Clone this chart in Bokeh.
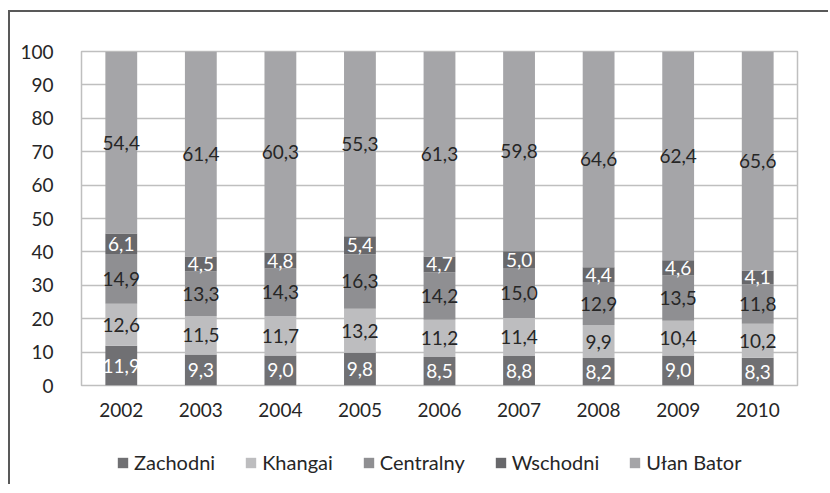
from bokeh.plotting import figure
from bokeh.layouts import column
from bokeh.models import ColumnDataSource, LabelSet, Legend, LegendItem, FixedTicker, Range1d
from bokeh.embed import file_html
from bokeh.resources import INLINE
from bokeh.core.properties import value

years = ["2002", "2003", "2004", "2005", "2006", "2007", "2008", "2009", "2010"]
series = ["Zachodni", "Khangai", "Centralny", "Wschodni", "Ułan Bator"]
zachodni = [11.9, 9.3, 9.0, 9.8, 8.5, 8.8, 8.2, 9.0, 8.3]
khangai = [12.6, 11.5, 11.7, 13.2, 11.2, 11.4, 9.9, 10.4, 10.2]
centralny = [14.9, 13.3, 14.3, 16.3, 14.2, 15.0, 12.9, 13.5, 11.8]
wschodni = [6.1, 4.5, 4.8, 5.4, 4.7, 5.0, 4.4, 4.6, 4.1]
ulan_bator = [54.4, 61.4, 60.3, 55.3, 61.3, 59.8, 64.6, 62.4, 65.6]
y_ticks = [0, 10, 20, 30, 40, 50, 60, 70, 80, 90, 100]

colors = ["#707073", "#bdbdbf", "#8f8f92", "#68686b", "#a5a5a8"]
label_colors = ["#ffffff", "#262626", "#262626", "#ffffff", "#262626"]
vals = [zachodni, khangai, centralny, wschodni, ulan_bator]

FONT = "Lato"

data = {"year": years}
for name, v in zip(series, vals):
    data[name] = v
src = ColumnDataSource(data)

p = figure(x_range=years, y_range=(0, 100), width=818, height=428,
           output_backend="svg", toolbar_location=None,
           min_border_left=71, min_border_right=31, min_border_top=39,
           min_border_bottom=55)

renderers = p.vbar_stack(series, x="year", width=0.4, color=colors, source=src,
                         line_color=None)

# labels at segment centres
bottom = [0.0] * len(years)
for name, v, lc in zip(series, vals, label_colors):
    centers = [b + x / 2 for b, x in zip(bottom, v)]
    texts = [("%.1f" % x).replace(".", ",") for x in v]
    ls = ColumnDataSource(dict(x=years, y=centers, t=texts))
    p.add_layout(LabelSet(x="x", y="y", text="t", source=ls, text_align="center",
                          text_baseline="middle", text_font=value(FONT),
                          text_font_size="19px", text_color=lc))
    bottom = [b + x for b, x in zip(bottom, v)]

p.xgrid.grid_line_color = None
p.ygrid.grid_line_color = "#bfbfbf"
p.ygrid.grid_line_width = 1.5
p.yaxis.ticker = FixedTicker(ticks=y_ticks)
p.outline_line_color = "#bfbfbf"
p.outline_line_width = 1.5

for ax in (p.xaxis, p.yaxis):
    ax.axis_line_color = None
    ax.major_tick_line_color = None
    ax.minor_tick_line_color = None
    ax.major_label_text_font = FONT
    ax.major_label_text_font_size = "19px"
    ax.major_label_text_color = "#262626"
p.yaxis.major_label_standoff = 22
p.xaxis.major_label_standoff = 11

# legend panel
pl = figure(width=818, height=44, output_backend="svg", toolbar_location=None,
            x_range=Range1d(0, 1), y_range=Range1d(0, 1),
            min_border_left=0, min_border_right=0, min_border_top=0, min_border_bottom=0)
pl.axis.visible = False
pl.grid.grid_line_color = None
pl.outline_line_color = None
dummy_src = ColumnDataSource(dict(x=[0.5], top=[0.0]))
leg_renderers = [pl.vbar(x="x", top="top", bottom="top", width=0.0, color=c,
                         line_alpha=0, source=dummy_src)
                 for c in colors]
legend = Legend(items=[LegendItem(label=s, renderers=[r]) for s, r in zip(series, leg_renderers)],
                orientation="horizontal", location=(35, 10),
                label_text_font=FONT, label_text_font_size="20px",
                label_text_color="#262626", glyph_width=13, glyph_height=13,
                spacing=29, label_standoff=5, border_line_color=None,
                background_fill_alpha=0, padding=0, margin=0)
pl.add_layout(legend, "center")

layout = column(p, pl, spacing=0)
layout.styles = {"border-left": "2px solid #595959", "border-top": "2px solid #595959",
                 "margin-left": "8px", "margin-top": "10px"}

open("out.html", "w").write(file_html(layout, INLINE))
